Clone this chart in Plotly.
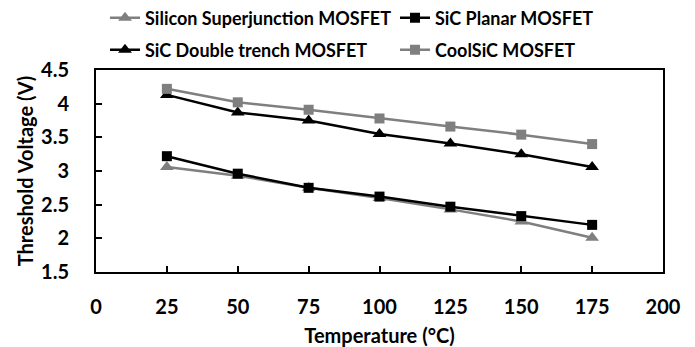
import plotly.graph_objects as go

temps = [25, 50, 75, 100, 125, 150, 175]
si_sj = [3.06, 2.93, 2.75, 2.60, 2.43, 2.25, 2.01]
sic_planar = [3.22, 2.96, 2.75, 2.62, 2.47, 2.33, 2.20]
sic_dtrench = [4.13, 3.87, 3.75, 3.55, 3.41, 3.25, 3.06]
coolsic = [4.22, 4.02, 3.91, 3.78, 3.66, 3.54, 3.40]

GRAY = "#7f7f7f"
BLACK = "#000000"
FONT = "Lato"

# figure is drawn inside the page's default 8px body margin
W, H = 687, 339

series = [
    ("Silicon Superjunction MOSFET", si_sj, GRAY, "triangle-up", 12, "legend"),
    ("SiC Planar MOSFET", sic_planar, BLACK, "square", 10, "legend2"),
    ("SiC Double trench MOSFET", sic_dtrench, BLACK, "triangle-up", 12, "legend3"),
    ("CoolSiC MOSFET", coolsic, GRAY, "square", 10, "legend4"),
]

fig = go.Figure()
for name, vals, col, sym, sz, leg in series:
    fig.add_trace(go.Scatter(
        x=temps, y=vals, name=name, mode="lines+markers",
        line=dict(color=col, width=2.5),
        marker=dict(symbol=sym, size=sz, color=col),
        legend=leg, showlegend=True,
    ))

legfont = dict(family=FONT, size=18, color="#000000", weight="bold")
common_leg = dict(orientation="h", xref="container", yref="container",
                  xanchor="left", yanchor="middle", font=legfont,
                  bgcolor="rgba(0,0,0,0)", itemwidth=30)
fig.update_layout(
    width=W, height=H, showlegend=True,
    margin=dict(l=88, r=32, t=62, b=75, autoexpand=False),
    paper_bgcolor="white", plot_bgcolor="white",
    font=dict(family=FONT, color="#000000", weight="bold"),
    legend=dict(x=97 / W, y=1 - 10 / H, **common_leg),
    legend2=dict(x=387 / W, y=1 - 10 / H, **common_leg),
    legend3=dict(x=97 / W, y=1 - 42 / H, **common_leg),
    legend4=dict(x=387 / W, y=1 - 42 / H, **common_leg),
    xaxis=dict(range=[0, 200], tickvals=[0, 25, 50, 75, 100, 125, 150, 175, 200],
               ticks="inside", ticklen=6, tickwidth=2, tickcolor="black",
               showline=True, linecolor="black", linewidth=2, mirror=True,
               showgrid=False, zeroline=False, automargin=False,
               tickfont=dict(family=FONT, size=20, weight="bold"),
               ticklabelstandoff=16,
               title=dict(text="Temperature (°C)", font=dict(family=FONT, size=20, weight="bold"), standoff=12)),
    yaxis=dict(range=[1.5, 4.5], tickvals=[1.5, 2, 2.5, 3, 3.5, 4, 4.5],
               ticktext=["1.5", "2", "2.5", "3", "3.5", "4", "4.5"],
               ticks="inside", ticklen=6, tickwidth=2, tickcolor="black",
               showline=True, linecolor="black", linewidth=2, mirror=True,
               showgrid=False, zeroline=False, automargin=False,
               tickfont=dict(family=FONT, size=20, weight="bold"),
               ticklabelstandoff=21,
               title=dict(text="Threshold Voltage (V)", font=dict(family=FONT, size=20, weight="bold"), standoff=2)),
)

fig.write_html("out.html")
